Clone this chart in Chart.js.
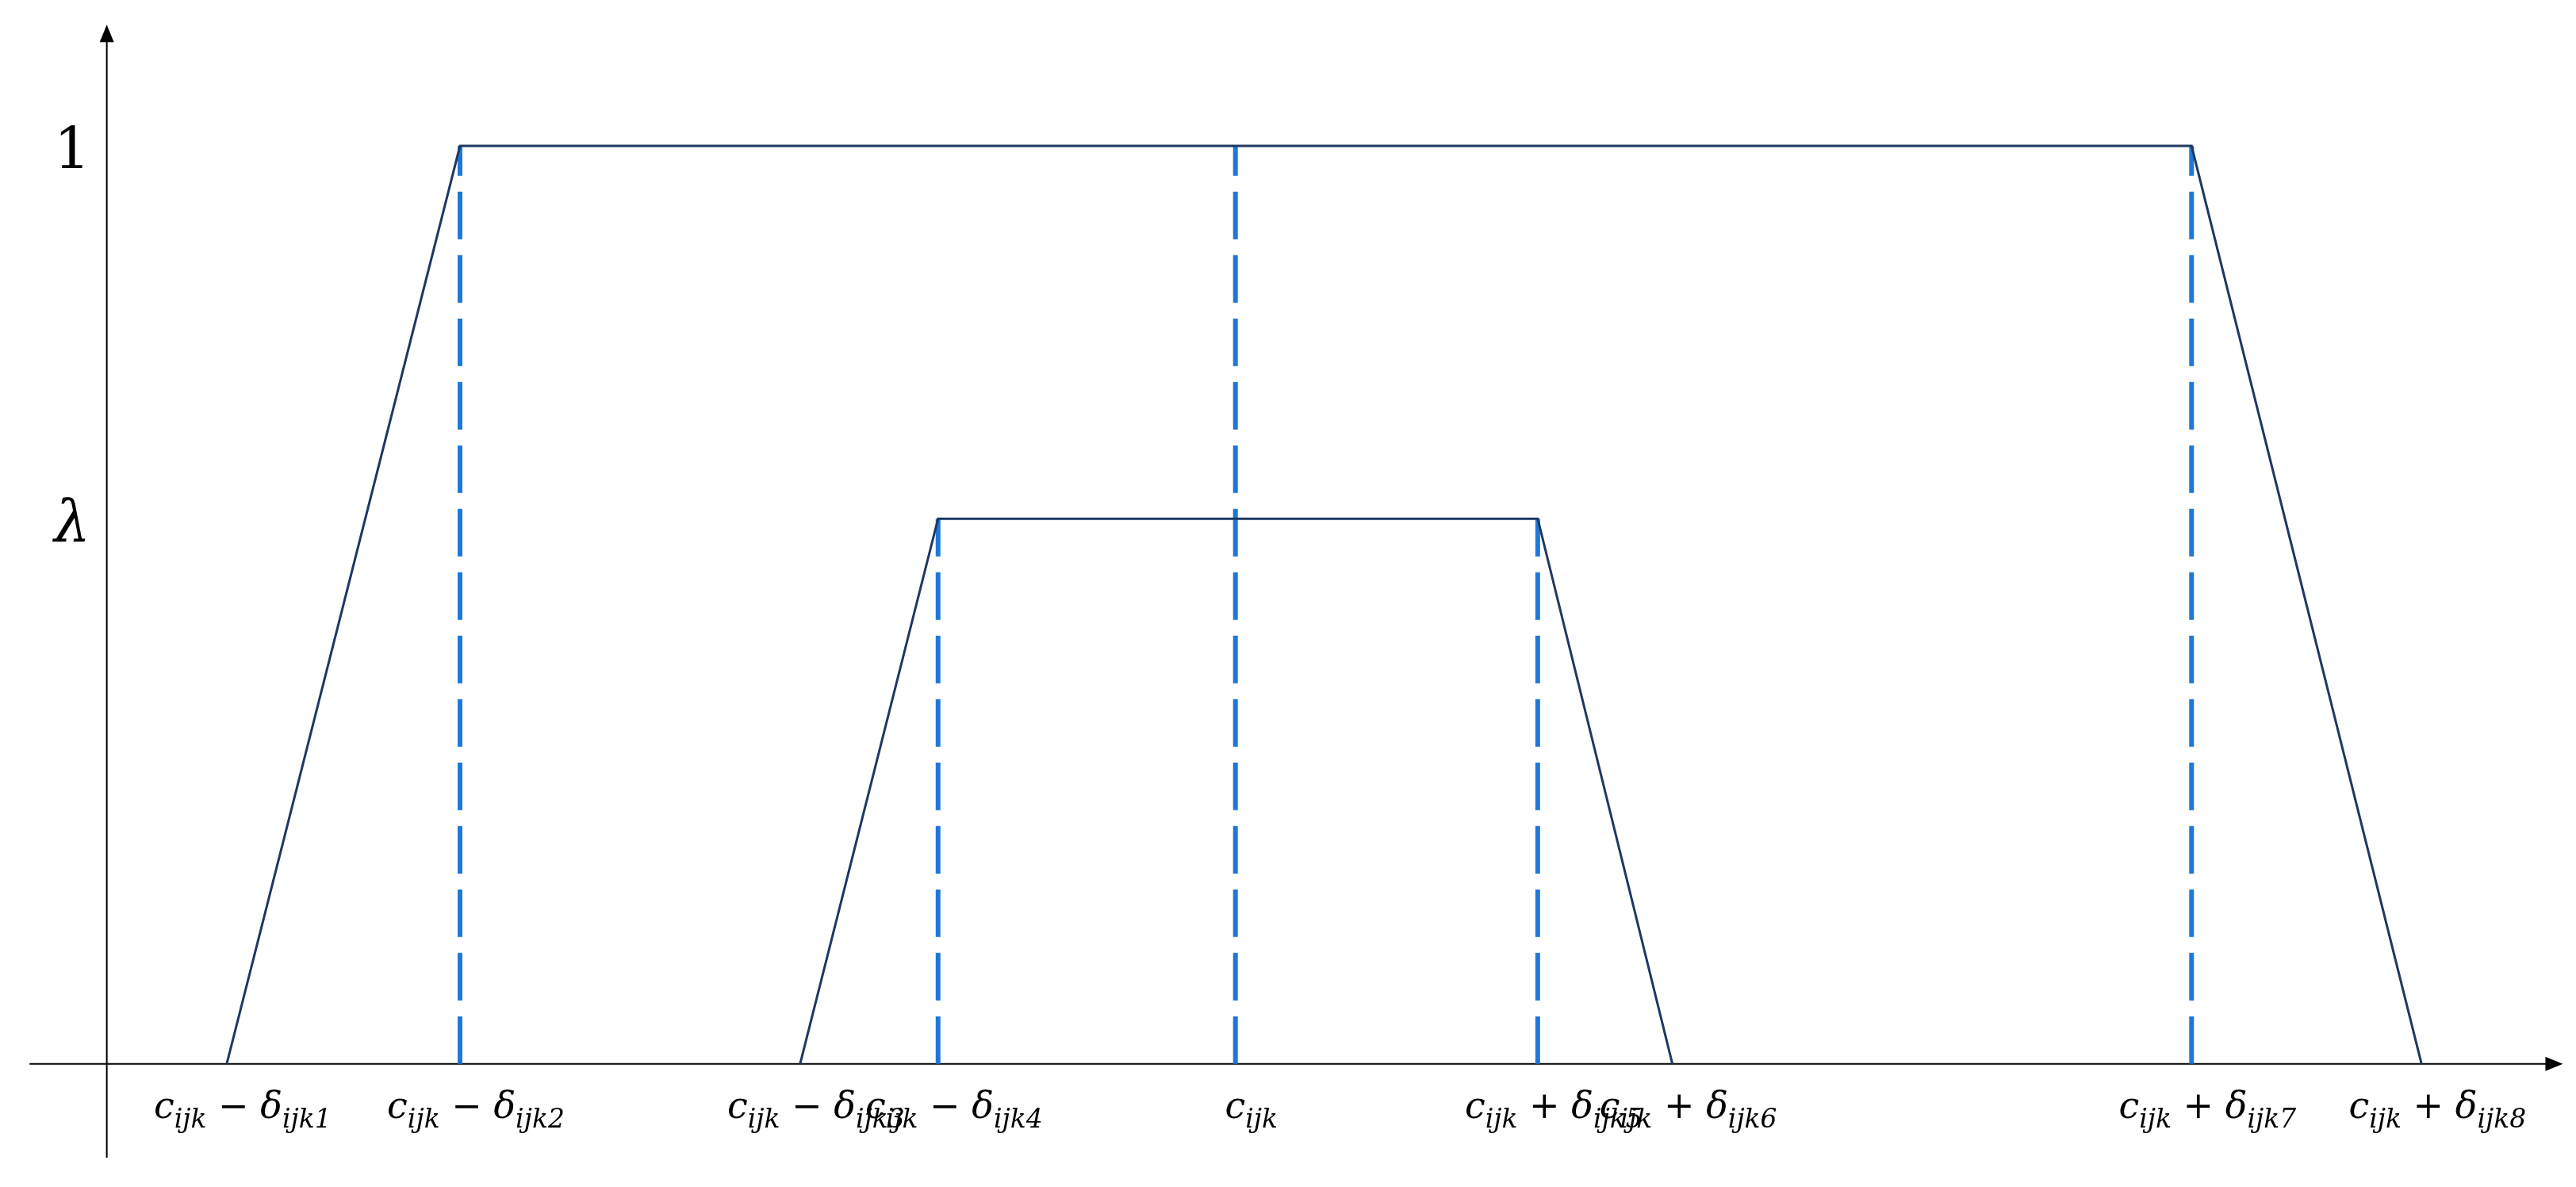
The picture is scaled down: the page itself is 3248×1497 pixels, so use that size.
<!DOCTYPE html>
<html>
<head>
<meta charset="utf-8">
<script src="https://cdn.jsdelivr.net/npm/chart.js@4"></script>
<style>
  html, body { margin: 0; padding: 0; background: #fff; }
  #wrap { width: 3248px; height: 1497px; }
</style>
</head>
<body>
<div id="wrap"><canvas id="c"></canvas></div>
<script>
// x positions (arbitrary units, origin at the y axis)
const tickX = [73, 215, 422, 506, 687, 871, 953, 1269, 1409];
const tickNames = [
  ['c', 'ijk', ' \u2212 ', '\u03b4', 'ijk1'],
  ['c', 'ijk', ' \u2212 ', '\u03b4', 'ijk2'],
  ['c', 'ijk', ' \u2212 ', '\u03b4', 'ijk3'],
  ['c', 'ijk', ' \u2212 ', '\u03b4', 'ijk4'],
  ['c', 'ijk'],
  ['c', 'ijk', ' + ', '\u03b4', 'ijk5'],
  ['c', 'ijk', ' + ', '\u03b4', 'ijk6'],
  ['c', 'ijk', ' + ', '\u03b4', 'ijk7'],
  ['c', 'ijk', ' + ', '\u03b4', 'ijk8']
];
const LAMBDA = 0.594;
const outerX = [73, 215, 1269, 1409];
const outerY = [0, 1, 1, 0];
const innerX = [422, 506, 871, 953];
const innerY = [0, LAMBDA, LAMBDA, 0];
const dashX = [215, 687, 1269, 506, 871];
const dashTop = [1, 1, 1, LAMBDA, LAMBDA];
const yTicks = [1, LAMBDA];
const yTickLabels = ['1', '\u03bb'];

const NAVY = '#1f3864';
const BLUE = '#1f78d8';

const datasets = [
  { data: outerX.map((x, i) => ({ x, y: outerY[i] })), borderColor: NAVY, borderWidth: 3 },
  { data: innerX.map((x, i) => ({ x, y: innerY[i] })), borderColor: NAVY, borderWidth: 3 }
];
dashX.forEach((x, i) => {
  datasets.push({
    data: [{ x, y: 0 }, { x, y: dashTop[i] }],
    borderColor: BLUE, borderWidth: 6, borderDash: [60, 20]
  });
});
datasets.forEach(d => { d.pointRadius = 0; d.fill = false; d.tension = 0; });

const big = 'italic 46px "DejaVu Serif"';
const sub = 'italic 33px "DejaVu Serif"';
const op = '46px "DejaVu Serif"';
const partFonts = [big, sub, op, big, sub];
const partShift = [0, 12, 0, 0, 12];

// axes, arrows and math labels
const decor = {
  id: 'decor',
  beforeDatasetsDraw(chart) {
    const { ctx, scales: { x, y } } = chart;
    const x0 = x.getPixelForValue(0), y0 = y.getPixelForValue(0);
    ctx.save();
    ctx.strokeStyle = '#000';
    ctx.fillStyle = '#000';
    ctx.lineWidth = 2;
    ctx.beginPath();
    ctx.moveTo(x.getPixelForValue(-47), y0);
    ctx.lineTo(x.getPixelForValue(1492), y0);
    ctx.moveTo(x0, y.getPixelForValue(-0.102));
    ctx.lineTo(x0, y.getPixelForValue(1.118));
    ctx.stroke();
    const ax = x.getPixelForValue(1495), ay = y.getPixelForValue(1.132);
    ctx.beginPath();
    ctx.moveTo(ax, y0); ctx.lineTo(ax - 22, y0 - 9); ctx.lineTo(ax - 22, y0 + 9); ctx.closePath(); ctx.fill();
    ctx.beginPath();
    ctx.moveTo(x0, ay); ctx.lineTo(x0 - 9, ay + 22); ctx.lineTo(x0 + 9, ay + 22); ctx.closePath(); ctx.fill();
    ctx.restore();
  },
  afterDraw(chart) {
    const { ctx, scales: { x, y } } = chart;
    const y0 = y.getPixelForValue(0);
    ctx.save();
    ctx.fillStyle = '#000';
    ctx.textBaseline = 'alphabetic';
    tickNames.forEach((parts, i) => {
      let w = 0;
      parts.forEach((p, j) => { ctx.font = partFonts[j]; w += ctx.measureText(p).width; });
      let px = x.getPixelForValue(tickX[i]) - w / 2 + 20;
      const base = y0 + 68;
      parts.forEach((p, j) => {
        ctx.font = partFonts[j];
        ctx.fillText(p, px, base + partShift[j]);
        px += ctx.measureText(p).width;
      });
    });
    ctx.textAlign = 'right';
    ctx.textBaseline = 'middle';
    yTicks.forEach((v, i) => {
      ctx.font = (i === 0 ? '' : 'italic ') + '72px "DejaVu Serif"';
      ctx.fillText(yTickLabels[i], x.getPixelForValue(-10), y.getPixelForValue(v) + 10);
    });
    ctx.restore();
  }
};

new Chart(document.getElementById('c'), {
  type: 'line',
  data: { datasets },
  options: {
    responsive: true,
    maintainAspectRatio: false,
    devicePixelRatio: 1,
    animation: false,
    layout: { padding: 0 },
    plugins: { legend: { display: false }, tooltip: { enabled: false } },
    scales: {
      x: { type: 'linear', min: -65, max: 1503, display: false },
      y: { type: 'linear', min: -0.134, max: 1.159, display: false }
    }
  },
  plugins: [decor]
});
</script>
</body>
</html>
